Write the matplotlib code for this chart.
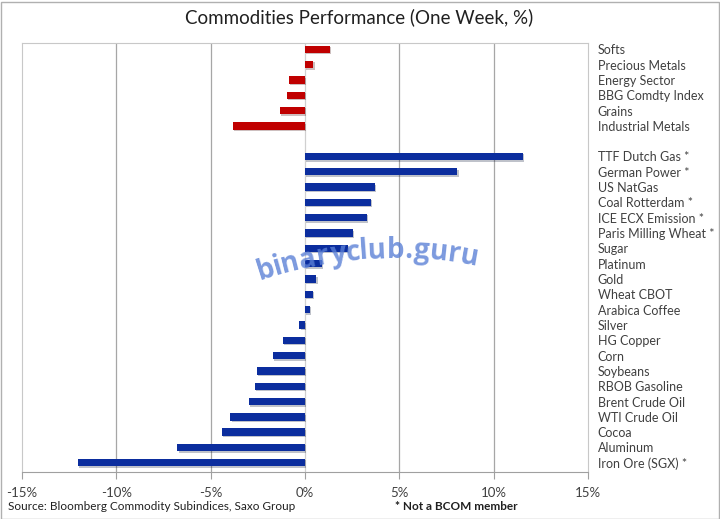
import matplotlib
matplotlib.use('Agg')
import matplotlib.pyplot as plt
import matplotlib.patheffects as pe
from matplotlib.patches import Rectangle
from matplotlib.textpath import TextPath
from matplotlib.font_manager import FontProperties
import numpy as np

# Sector indices (top block, red)
sector_names = ['Softs', 'Precious Metals', 'Energy Sector', 'BBG Comdty Index',
                'Grains', 'Industrial Metals']
sector_values = [1.32, 0.45, -0.86, -0.96, -1.33, -3.82]

# Single commodities (bottom block, blue)
commodity_names = ['TTF Dutch Gas *', 'German Power *', 'US NatGas', 'Coal Rotterdam *',
                   'ICE ECX Emission *', 'Paris Milling Wheat *', 'Sugar', 'Platinum',
                   'Gold', 'Wheat CBOT', 'Arabica Coffee', 'Silver', 'HG Copper', 'Corn',
                   'Soybeans', 'RBOB Gasoline', 'Brent Crude Oil', 'WTI Crude Oil',
                   'Cocoa', 'Aluminum', 'Iron Ore (SGX) *']
commodity_values = [11.54, 8.08, 3.69, 3.49, 3.28, 2.54, 2.27, 0.89, 0.59, 0.41, 0.25,
                    -0.31, -1.17, -1.71, -2.56, -2.66, -2.98, -3.95, -4.42, -6.77, -12.05]

x_ticks = [-15, -10, -5, 0, 5, 10, 15]

RED = '#c00000'
BLUE = '#0b2d9e'
W, H = 720, 519

plt.rcParams['font.family'] = ['Lato', 'DejaVu Sans']

fig = plt.figure(figsize=(7.2, 5.19), dpi=100)
ax = fig.add_axes([22 / W, 1 - 471.5 / H, (588 - 22) / W, (471.5 - 43) / H])

shadow = [pe.SimplePatchShadow(offset=(1, -1), alpha=0.25), pe.Normal()]

y_sec = np.arange(len(sector_names))
y_com = np.arange(len(commodity_names)) + len(sector_names) + 1
ax.barh(y_sec, sector_values, height=0.48, color=RED, zorder=3, path_effects=shadow)
ax.barh(y_com, commodity_values, height=0.48, color=BLUE, zorder=3, path_effects=shadow)

ax.set_xlim(-15, 15)
ax.set_ylim(y_com[-1] + 0.57, -0.41)
ax.set_xticks(x_ticks)
ax.set_xticklabels([f'{t}%' for t in x_ticks], fontsize=9.5, color='#404040')
ax.tick_params(axis='x', direction='out', length=5, color='#a0a0a0', pad=6)

ax.set_yticks(list(y_sec) + list(y_com))
ax.set_yticklabels(sector_names + commodity_names, fontsize=9, color='#404040')
ax.yaxis.tick_right()
ax.tick_params(axis='y', length=0, pad=7)

for t in x_ticks[1:-1]:
    ax.axvline(t, color='#a6a6a6' if t != 0 else '#d0d0d0', lw=0.9, zorder=1)
for s in ax.spines.values():
    s.set_color('#c8c8c8')
ax.spines['bottom'].set_color('#a0a0a0')

fig.text(359 / W, 1 - 17 / H, 'Commodities Performance (One Week, %)', ha='center',
         va='center', fontsize=13.5, color='#202020')
fig.text(8 / W, 1 - 507 / H, 'Source: Bloomberg Commodity Subindices, Saxo Group',
         ha='left', va='center', fontsize=8.5, color='#202020')
fig.text(395 / W, 1 - 507 / H, '* Not a BCOM member', ha='left', va='center',
         fontsize=8.5, fontweight='bold', color='#202020')

# outer frame
fig.patches.append(Rectangle((0.5 / W, 0.5 / H), 1 - 2 / W, 1 - 2 / H, transform=fig.transFigure,
                             fill=False, edgecolor='#b0b0b0', lw=1))

# watermark along an arc
wm = 'binaryclub.guru'
fs = 20
fp = FontProperties(family='Open Sans', weight='bold', size=fs)
scale = 100 / 72
widths = [TextPath((0, 0), wm[:i + 1], prop=fp).get_extents().xmax * scale for i in range(len(wm))]
starts = [0] + widths[:-1]
R = 420
peak_x, peak_y = 395, 258
left_x = 258
for ch, s0, s1 in zip(wm, starts, widths):
    s = left_x + (s0 + s1) / 2 - peak_x
    th = s / R
    px = peak_x + R * np.sin(th)
    py = peak_y + R * (1 - np.cos(th))
    fig.text(px / W, 1 - py / H, ch, fontproperties=fp, color='#5b80d6', alpha=0.8,
             ha='center', va='baseline', rotation=-np.degrees(th), rotation_mode='anchor',
             zorder=10)

fig.savefig('out.png', dpi=100)
